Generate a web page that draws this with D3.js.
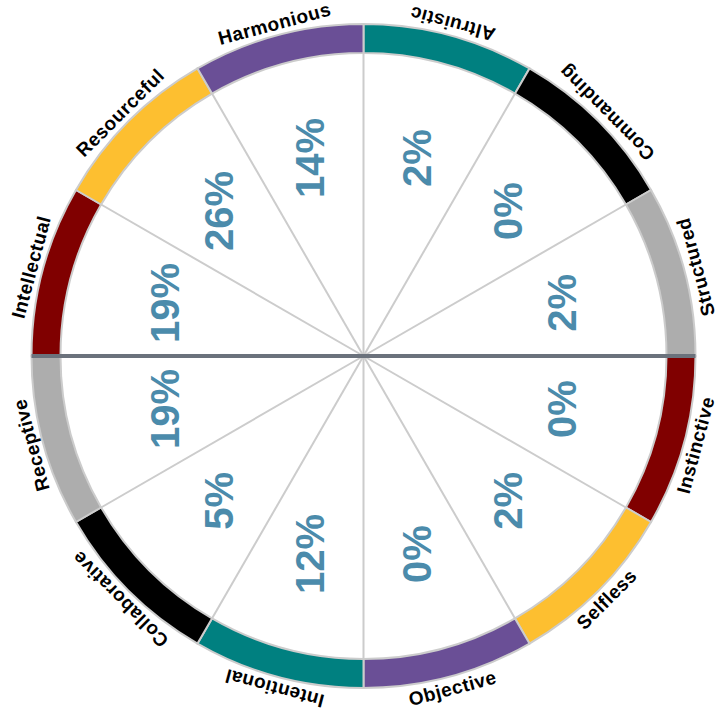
<!DOCTYPE html>
<html>
<head>
<meta charset="utf-8">
<script src="https://cdn.jsdelivr.net/npm/d3@7"></script>
<style>
  html, body { margin: 0; padding: 0; background: #fff; }
  svg { display: block; }
  text { font-family: "Liberation Sans", Arial, Helvetica, sans-serif; font-weight: bold; }
</style>
</head>
<body>
<div id="chart"></div>
<script>
const categories = ["Altruistic", "Commanding", "Structured", "Instinctive", "Selfless", "Objective",
                    "Intentional", "Collaborative", "Receptive", "Intellectual", "Resourceful", "Harmonious"];
const percentages = [2, 0, 2, 0, 2, 0, 12, 5, 19, 19, 26, 14];
const segmentColors = ["#008080", "#000000", "#adadad", "#800000", "#fdbf30", "#6a4f96",
                       "#008080", "#000000", "#adadad", "#800000", "#fdbf30", "#6a4f96"];

const W = 718, H = 726;
const cx = 363.5, cy = 356;
const rInner = 303, rOuter = 332, rLabel = 344, rPct = 205;

const svg = d3.select("#chart").append("svg").attr("width", W).attr("height", H);
const g = svg.append("g").attr("transform", `translate(${cx},${cy})`);

const angle = d3.scaleBand().domain(categories).range([0, 2 * Math.PI]).paddingInner(0).paddingOuter(0);
const color = d3.scaleOrdinal().domain(categories).range(segmentColors);
const deg = a => a * 180 / Math.PI;

// spokes
g.selectAll("line.spoke").data(categories).join("line")
  .attr("class", "spoke")
  .attr("x1", 0).attr("y1", 0)
  .attr("x2", d => rInner * Math.sin(angle(d)))
  .attr("y2", d => -rInner * Math.cos(angle(d)))
  .attr("stroke", "#cccccc").attr("stroke-width", 2);

// ring segments
const arc = d3.arc().innerRadius(rInner).outerRadius(rOuter);
g.selectAll("path.seg").data(categories).join("path")
  .attr("class", "seg")
  .attr("d", d => arc({startAngle: angle(d), endAngle: angle(d) + angle.bandwidth()}))
  .attr("fill", d => color(d))
  .attr("stroke", "#cccccc").attr("stroke-width", 2);

// horizontal divider
g.append("line")
  .attr("x1", -rOuter).attr("x2", rOuter).attr("y1", 0).attr("y2", 0)
  .attr("stroke", "#6b727c").attr("stroke-width", 4);

// category labels
g.selectAll("text.lab").data(categories).join("text")
  .attr("class", "lab")
  .attr("transform", d => {
    const m = angle(d) + angle.bandwidth() / 2;
    const x = rLabel * Math.sin(m), y = -rLabel * Math.cos(m);
    const md = deg(m);
    const rot = md < 180 ? md + 180 : md;
    return `translate(${x},${y}) rotate(${rot})`;
  })
  .attr("text-anchor", "middle")
  .attr("dominant-baseline", "central")
  .attr("font-size", 19)
  .attr("letter-spacing", 0.5)
  .attr("fill", "#000")
  .text(d => d);

// percentages
g.selectAll("text.pct").data(categories).join("text")
  .attr("class", "pct")
  .attr("transform", (d, i) => {
    const m = angle(d) + angle.bandwidth() / 2;
    const x = rPct * Math.sin(m), y = -rPct * Math.cos(m);
    return `translate(${x},${y}) rotate(-90)`;
  })
  .attr("text-anchor", "middle")
  .attr("dominant-baseline", "central")
  .attr("font-size", 40)
  .attr("fill", "#4b8bab")
  .text((d, i) => percentages[i] + "%");
</script>
</body>
</html>
